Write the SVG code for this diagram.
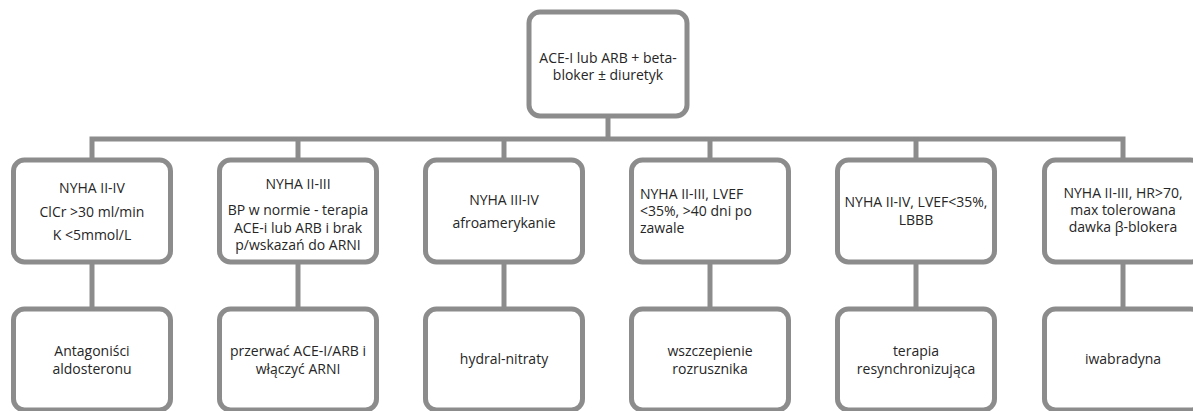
<svg xmlns="http://www.w3.org/2000/svg" width="1193" height="411" viewBox="0 0 1193 411">
<style>
.box{fill:#ffffff;stroke:#8c8c8c;stroke-width:5}
.conn{fill:none;stroke:#8c8c8c;stroke-width:5;stroke-linejoin:miter;stroke-linecap:butt}
text{font-family:"Open Sans","Liberation Sans",sans-serif;font-size:14px;fill:#262626}
.c{text-anchor:middle}
</style>
<rect width="1193" height="411" fill="#ffffff"/>
<g id="connectors">
<line class="conn" x1="608" y1="116" x2="608" y2="139"/>
<polyline class="conn" points="92,160 92,139 1123,139 1123,160"/>
<line class="conn" x1="298" y1="139" x2="298" y2="160"/>
<line class="conn" x1="504" y1="139" x2="504" y2="160"/>
<line class="conn" x1="710" y1="139" x2="710" y2="160"/>
<line class="conn" x1="916" y1="139" x2="916" y2="160"/>
<line class="conn" x1="92" y1="262" x2="92" y2="309"/>
<line class="conn" x1="298" y1="262" x2="298" y2="309"/>
<line class="conn" x1="504" y1="262" x2="504" y2="309"/>
<line class="conn" x1="710" y1="262" x2="710" y2="309"/>
<line class="conn" x1="916" y1="262" x2="916" y2="309"/>
<line class="conn" x1="1123" y1="262" x2="1123" y2="309"/>
</g>
<g id="root">
<rect class="box" x="529" y="12" width="158" height="104" rx="11"/>
<text class="c" x="608" y="63">ACE-I lub ARB + beta-</text>
<text class="c" x="608" y="80">bloker ± diuretyk</text>
</g>
<g id="c1">
<rect class="box" x="13.5" y="160" width="157" height="102" rx="11"/>
<text class="c" x="92" y="193">NYHA II-IV</text>
<text class="c" x="92" y="216.5">ClCr &gt;30 ml/min</text>
<text class="c" x="92" y="240">K &lt;5mmol/L</text>
</g>
<g id="c2">
<rect class="box" x="219.5" y="160" width="157" height="102" rx="11"/>
<text class="c" x="298" y="188.5">NYHA II-III</text>
<text class="c" x="298" y="215">BP w normie - terapia</text>
<text class="c" x="298" y="232.5">ACE-i lub ARB i brak</text>
<text class="c" x="298" y="250">p/wskazań do ARNI</text>
</g>
<g id="c3">
<rect class="box" x="425.5" y="160" width="157" height="102" rx="11"/>
<text class="c" x="504" y="205">NYHA III-IV</text>
<text class="c" x="504" y="227.5">afroamerykanie</text>
</g>
<g id="c4">
<rect class="box" x="631.5" y="160" width="157" height="102" rx="11"/>
<text x="640" y="199">NYHA II-III, LVEF</text>
<text x="640" y="216">&lt;35%, &gt;40 dni po</text>
<text x="640" y="233">zawale</text>
</g>
<g id="c5">
<rect class="box" x="837.5" y="160" width="157" height="102" rx="11"/>
<text class="c" x="916" y="207">NYHA II-IV, LVEF&lt;35%,</text>
<text class="c" x="916" y="224.5">LBBB</text>
</g>
<g id="c6">
<rect class="box" x="1044.5" y="160" width="157" height="102" rx="11"/>
<text class="c" x="1123" y="198">NYHA II-III, HR&gt;70,</text>
<text class="c" x="1123" y="215">max tolerowana</text>
<text class="c" x="1123" y="232">dawka β-blokera</text>
</g>
<g id="t1">
<rect class="box" x="13.5" y="309" width="157" height="101" rx="11"/>
<text class="c" x="92" y="356">Antagoniści</text>
<text class="c" x="92" y="373.5">aldosteronu</text>
</g>
<g id="t2">
<rect class="box" x="219.5" y="309" width="157" height="101" rx="11"/>
<text class="c" x="298" y="356">przerwać ACE-I/ARB i</text>
<text class="c" x="298" y="373.5">włączyć ARNI</text>
</g>
<g id="t3">
<rect class="box" x="425.5" y="309" width="157" height="101" rx="11"/>
<text class="c" x="504" y="364">hydral-nitraty</text>
</g>
<g id="t4">
<rect class="box" x="631.5" y="309" width="157" height="101" rx="11"/>
<text class="c" x="710" y="356">wszczepienie</text>
<text class="c" x="710" y="373.5">rozrusznika</text>
</g>
<g id="t5">
<rect class="box" x="837.5" y="309" width="157" height="101" rx="11"/>
<text class="c" x="916" y="356">terapia</text>
<text class="c" x="916" y="373.5">resynchronizująca</text>
</g>
<g id="t6">
<rect class="box" x="1044.5" y="309" width="157" height="101" rx="11"/>
<text class="c" x="1123" y="364">iwabradyna</text>
</g>
</svg>
